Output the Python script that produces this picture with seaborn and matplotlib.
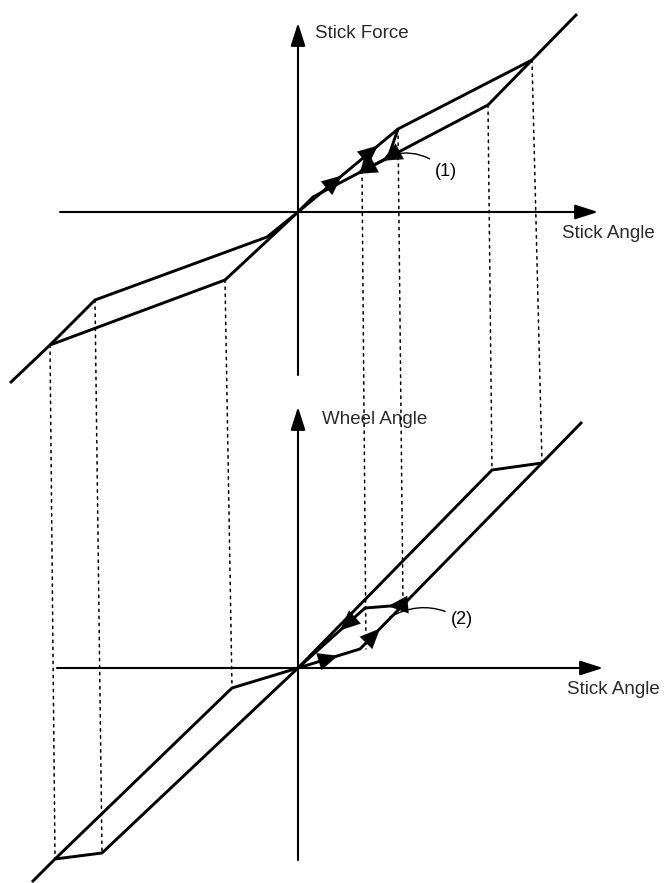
import matplotlib
matplotlib.use('Agg')
import matplotlib.pyplot as plt
import seaborn as sns
import numpy as np
import pandas as pd
from matplotlib.patches import ConnectionPatch

sns.set_theme(style='white')
plt.rcParams['font.family'] = ['Liberation Sans', 'DejaVu Sans']

# ---------------- data (schematic units, origin = axes crossing) ----------------
# Top panel: stick force vs stick angle
force_up_angle = [-288, -248, -73, 0, 100, 234, 279]
force_up_value = [-171, -133, -68, 0, 83, 152, 198]
force_down_angle = [234, 190, 15, 0, -31, -203, -248]
force_down_value = [152, 107, 15, 0, -25, -88, -133]
loop1_angle = [100, 90, 64, 68]
loop1_value = [83, 54, 41, 56]

# Bottom panel: wheel angle vs stick angle
wheel_up_angle = [-266, -243, -196, 0, 62, 244, 284]
wheel_up_value = [-214, -191, -185, 0, 19, 205, 246]
wheel_down_angle = [244, 194, 0, -66, -243]
wheel_down_value = [205, 198, 0, -20, -191]
loop2_angle = [105, 67, 0]
loop2_value = [63, 60, 0]

# vertical dotted links: (stick angle, force) -> (stick angle, wheel)
link_top_angle = [-248, -203, -73, 64, 100, 190, 234]
link_top_force = [-133, -88, -68, 41, 83, 107, 152]
link_bot_angle = [-243, -196, -66, 68, 105, 194, 244]
link_bot_wheel = [-191, -185, -20, 19, 63, 198, 205]

# arrowheads: positions along branches (stick angle)
arrows_top_up = [44, 80]          # on force_up branch, pointing up-right
arrows_top_down = [59, 84]        # on force_down branch, pointing down-left
arrows_bot_up = [40, 82]          # on wheel_up branch
arrows_bot_loop = [90, 42]        # on loop2 path, pointing left/down-left

axis_labels = ["Stick Force", "Stick Angle", "Wheel Angle", "Stick Angle"]
loop_labels = ["(1)", "(2)"]

# ---------------- figure ----------------
W, H = 665, 883
fig = plt.figure(figsize=(W / 100, H / 100), dpi=100)
fig.patch.set_facecolor('white')
ax1 = fig.add_axes([0, 1 - 400 / H, 1, 400 / H])
ax2 = fig.add_axes([0, 0, 1, 483 / H])
ax1.set_xlim(-298, 367); ax1.set_ylim(-188, 212)
ax2.set_xlim(-298, 367); ax2.set_ylim(-215, 268)
for ax in (ax1, ax2):
    ax.axis('off')

LW = 2.1
ink = 'black'

def branch(ax, xs, ys):
    df = pd.DataFrame({'x': xs, 'y': ys})
    sns.lineplot(data=df, x='x', y='y', ax=ax, sort=False, estimator=None,
                 color=ink, lw=LW, solid_joinstyle='miter', solid_capstyle='butt')

branch(ax1, force_up_angle, force_up_value)
branch(ax1, force_down_angle, force_down_value)
branch(ax1, loop1_angle, loop1_value)
branch(ax2, wheel_up_angle, wheel_up_value)
branch(ax2, wheel_down_angle, wheel_down_value)
branch(ax2, loop2_angle, loop2_value)

def head(ax, x, xs, ys, sign):
    order = np.argsort(xs)
    xa = np.array(xs)[order]; ya = np.array(ys)[order]
    y = np.interp(x, xa, ya)
    d = 6 * sign
    yb = np.interp(x - d, xa, ya)
    ax.annotate('', xy=(x, y), xytext=(x - d, yb),
                arrowprops=dict(arrowstyle='-|>,head_length=0.95,head_width=0.42',
                                color=ink, lw=0.1, shrinkA=0, shrinkB=0,
                                mutation_scale=15))

for x in arrows_top_up:
    head(ax1, x, force_up_angle[3:5], force_up_value[3:5], +1)
for x in arrows_top_down:
    head(ax1, x, force_down_angle[1:3], force_down_value[1:3], -1)
head(ax2, arrows_bot_up[0], wheel_up_angle[3:5], wheel_up_value[3:5], +1)
head(ax2, arrows_bot_up[1], wheel_up_angle[4:6], wheel_up_value[4:6], +1)
head(ax2, arrows_bot_loop[0], loop2_angle[0:2], loop2_value[0:2], -1)
head(ax2, arrows_bot_loop[1], loop2_angle[1:3], loop2_value[1:3], -1)

def axis_arrow(ax, xy0, xy1):
    ax.annotate('', xy=xy1, xytext=xy0,
                arrowprops=dict(arrowstyle='-|>,head_length=1.0,head_width=0.32',
                                color=ink, lw=1.5, shrinkA=0, shrinkB=0,
                                mutation_scale=14))

axis_arrow(ax1, (-238, 0), (300, 0))
axis_arrow(ax1, (0, -163), (0, 189))
axis_arrow(ax2, (-241, 0), (305, 0))
axis_arrow(ax2, (0, -192), (0, 261))

tc = '#2a2a2a'
ax1.text(17, 179, axis_labels[0], fontsize=13.5, color=tc, va='center', ha='left')
ax1.text(264, -21, axis_labels[1], fontsize=13.5, color=tc, va='center', ha='left')
ax2.text(24, 249, axis_labels[2], fontsize=13.5, color=tc, va='center', ha='left')
ax2.text(269, -21, axis_labels[3], fontsize=13.5, color=tc, va='center', ha='left')

ax1.annotate(loop_labels[0], xy=(92, 57), xytext=(137, 40), fontsize=13, color=ink,
             va='center', ha='left',
             arrowprops=dict(arrowstyle='-', color=ink, lw=1.0,
                             connectionstyle='arc3,rad=0.3', shrinkA=2, shrinkB=0))
ax2.annotate(loop_labels[1], xy=(92, 51), xytext=(153, 48), fontsize=13, color=ink,
             va='center', ha='left',
             arrowprops=dict(arrowstyle='-', color=ink, lw=1.0,
                             connectionstyle='arc3,rad=0.3', shrinkA=2, shrinkB=0))

for xa, ya, xb, yb in zip(link_top_angle, link_top_force, link_bot_angle, link_bot_wheel):
    con = ConnectionPatch(xyA=(xa, ya), coordsA=ax1.transData,
                          xyB=(xb, yb), coordsB=ax2.transData,
                          color=ink, lw=1.1, linestyle=(0, (1.6, 3.0)))
    fig.add_artist(con)

fig.savefig('out.png', dpi=100, facecolor='white')
